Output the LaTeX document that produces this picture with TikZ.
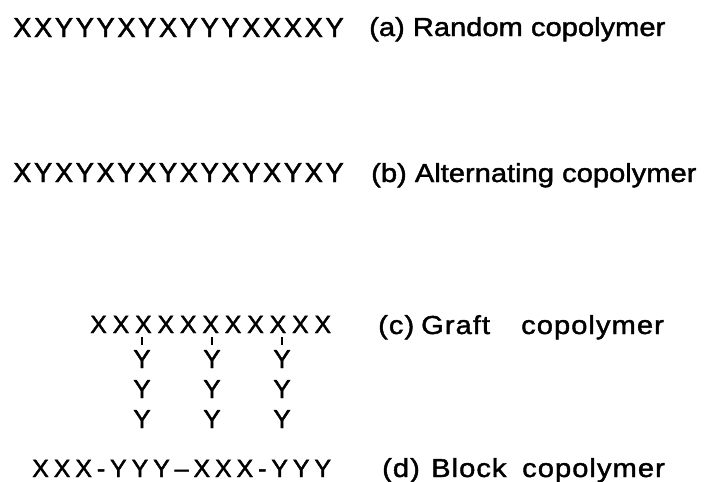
\documentclass[tikz,border=0pt]{standalone}
\usepackage{fontspec}
\setmainfont{Liberation Sans}
\newfontfamily\seqAfont[LetterSpace=9.0,FakeBold=1.6]{Liberation Sans}
\newfontfamily\seqCfont[LetterSpace=23,FakeBold=1.6]{Liberation Sans}
\newfontfamily\seqDfont[LetterSpace=19.5,FakeBold=1.6]{Liberation Sans}
\newfontfamily\monofont[FakeBold=1.6]{Liberation Sans}
\newfontfamily\lblfont[FakeStretch=1.12,FakeBold=1.6]{Liberation Sans}
\newfontfamily\lblwfont[FakeStretch=1.12,LetterSpace=4,FakeBold=1.6]{Liberation Sans}
\usetikzlibrary{calc}
\begin{document}
\begin{tikzpicture}[x=1pt,y=-1pt,
  seqA/.style={anchor=base west,inner sep=0pt,font=\seqAfont\fontsize{27.5}{30}\selectfont},
  seqC/.style={anchor=base west,inner sep=0pt,font=\seqCfont\fontsize{25}{28}\selectfont},
  seqD/.style={anchor=base west,inner sep=0pt,font=\seqDfont\fontsize{25}{28}\selectfont},
  mono/.style={anchor=base,inner sep=0pt,font=\monofont\fontsize{26}{28}\selectfont},
  lbl/.style={anchor=base west,inner sep=0pt,font=\lblfont\fontsize{26}{29}\selectfont},
  lblw/.style={anchor=base west,inner sep=0pt,font=\lblwfont\fontsize{26}{29}\selectfont},
  tick/.style={line width=1.8pt}]
\useasboundingbox (0,0) rectangle (718,482);
% (a)
\node[seqA] (sa) at (13,37) {XXYYYXYXYYYXXXXY};
\node[lbl]  (la) at (369,36) {(a) Random copolymer};
% (b)
\node[seqA] (sb) at (13,182) {XYXYXYXYXYXYXYXY};
\node[lbl]  (lb) at (371,182) {(b) Alternating copolymer};
% (c)
\node[seqC] (sc) at (90,333) {XXXXXXXXXXX};
\node[lblw] (lc1) at (378,334) {(c)};
\node[lblw] (lc2) at (421,334) {Graft};
\node[lblw] (lc3) at (521,334) {copolymer};
\foreach \c/\xx in {1/142,2/212,3/282}{
  \node[mono] (g\c a) at (\xx,368) {Y};
  \node[mono] (g\c b) at (\xx,398) {Y};
  \node[mono] (g\c c) at (\xx,428) {Y};
  \draw[tick] ([yshift=-4pt]g\c a.north |- sc.south) -- ([yshift=5pt]g\c a.north);
}
% (d)
\node[seqD] (sd) at (32,477) {XXX-YYY–XXX-YYY};
\node[lblw] (ld1) at (382,477) {(d)};
\node[lblw] (ld2) at (431,477) {Block};
\node[lblw] (ld3) at (522,477) {copolymer};
\end{tikzpicture}
\end{document}
